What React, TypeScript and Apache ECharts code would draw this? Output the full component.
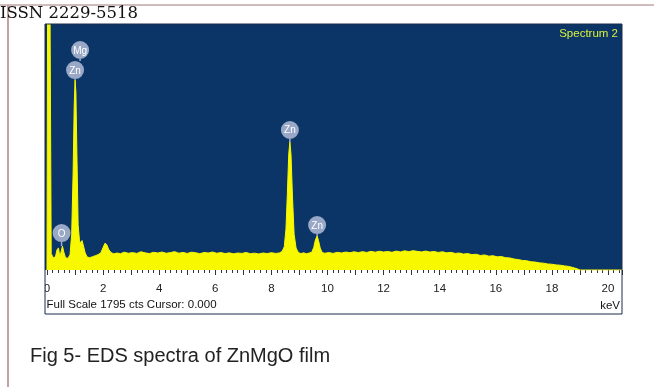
import React, { useEffect, useRef } from "react";
import * as echarts from "echarts";

// Energy (keV) of each sampled point of the spectrum
const energyKeV: number[] = [
  0.0, 0.02, 0.11, 0.15, 0.22, 0.3, 0.36, 0.41, 0.46, 0.51, 0.55, 0.6, 0.66, 0.74, 0.82, 0.88, 0.93, 0.97,
  1.0, 1.03, 1.07, 1.11, 1.16, 1.21, 1.25, 1.3, 1.36, 1.43, 1.52, 1.62, 1.72, 1.82, 1.92, 2.0, 2.07, 2.13,
  2.2, 2.28, 2.38, 2.5, 2.62, 2.75, 2.9, 3.05, 3.2, 3.35, 3.5, 3.65, 3.8, 3.95, 4.1, 4.25, 4.4, 4.55, 4.7,
  4.85, 5.0, 5.15, 5.3, 5.45, 5.6, 5.75, 5.9, 6.05, 6.2, 6.35, 6.5, 6.65, 6.8, 6.95, 7.1, 7.25, 7.4, 7.55,
  7.7, 7.85, 8.0, 8.15, 8.28, 8.38, 8.46, 8.52, 8.57, 8.62, 8.66, 8.7, 8.75, 8.81, 8.88, 8.96, 9.05, 9.15,
  9.25, 9.35, 9.44, 9.51, 9.57, 9.63, 9.68, 9.74, 9.81, 9.9, 10.05, 10.2, 10.35, 10.5, 10.65, 10.8, 10.95,
  11.1, 11.25, 11.4, 11.55, 11.7, 11.85, 12.0, 12.15, 12.3, 12.45, 12.6, 12.75, 12.9, 13.05, 13.2, 13.35,
  13.5, 13.65, 13.8, 13.95, 14.1, 14.25, 14.4, 14.55, 14.7, 14.85, 15.0, 15.15, 15.3, 15.45, 15.6, 15.75,
  15.9, 16.05, 16.2, 16.35, 16.5, 16.65, 16.8, 16.95, 17.1, 17.25, 17.4, 17.55, 17.7, 17.85, 18.0, 18.15,
  18.3, 18.45, 18.6, 18.75, 18.9, 19.0, 19.1, 20.5,
];

// Counts (full scale 1795 cts)
const counts: number[] = [
  0, 1795, 1795, 120, 90, 95, 150, 160, 95, 140, 175, 130, 90, 85, 110, 260, 700, 1200,
  1386, 1300, 800, 330, 210, 200, 215, 175, 125, 95, 90, 97, 104, 112, 125, 165, 196, 185,
  150, 128, 118, 124, 119, 130, 122, 127, 121, 133, 125, 120, 129, 124, 131, 122, 127, 134, 123,
  128, 121, 130, 126, 119, 128, 124, 131, 122, 127, 120, 125, 118, 124, 121, 128, 119, 123, 117,
  124, 120, 126, 121, 124, 135, 170, 300, 560, 850, 934, 840, 540, 260, 160, 128, 120, 125,
  119, 124, 130, 165, 220, 248, 215, 160, 128, 122, 127, 121, 129, 124, 131, 126, 133,
  127, 134, 128, 136, 130, 137, 131, 135, 129, 138, 132, 140, 134, 141, 136, 132,
  138, 131, 135, 128, 133, 125, 129, 121, 124, 116, 120, 112, 115, 106, 110, 101,
  104, 96, 98, 90, 88, 80, 76, 70, 68, 60, 58, 52, 50, 44, 42, 37,
  35, 30, 26, 18, 9, 0, 0, 0,
];

// Element labels: name, energy anchor (keV), count anchor, stem length (px)
const peakNames: string[] = ["O", "Zn", "Mg", "Zn", "Zn"];
const peakKeV: number[] = [0.52, 1.0, 1.18, 8.66, 9.63];
const peakCounts: number[] = [175, 1386, 1525, 934, 248];
const peakStems: number[] = [4, 1, 2, 3, 2];

const xTickLabels: number[] = [0, 2, 4, 6, 8, 10, 12, 14, 16, 18, 20];

const FULL_SCALE = 1795;

function pinPath(stem: number): string {
  const b = 9 + stem;
  return (
    "path://M-9,0A9,9,0,1,1,9,0A9,9,0,1,1,-9,0Z" +
    `M-0.8,8.5L0.8,8.5L0.8,${b}L-0.8,${b}Z`
  );
}

export default function App() {
  const ref = useRef<HTMLDivElement>(null);

  useEffect(() => {
    document.body.style.margin = "0";
    if (!ref.current) return;
    const chart = echarts.init(ref.current, undefined, { renderer: "svg" });

    const spectrum = energyKeV.map((e, i) => [e, counts[i]]);
    const markData = peakNames.map((n, i) => {
      const s = peakStems[i];
      return {
        name: n,
        coord: [peakKeV[i], peakCounts[i]],
        symbol: pinPath(s),
        symbolSize: [18, 18 + s],
        symbolOffset: [0, -(18 + s) / 2],
        label: { offset: [0, -s / 2] },
      };
    });

    const font = "Liberation Sans, Arial, sans-serif";

    chart.setOption({
      animation: false,
      grid: { left: 47, right: 32, top: 24, bottom: 117, containLabel: false },
      xAxis: {
        type: "value",
        min: 0,
        max: 20.5,
        interval: 1,
        axisLine: { show: false },
        axisTick: { show: true, length: 5, lineStyle: { color: "#333", width: 1 } },
        minorTick: { show: true, splitNumber: 5, length: 3, lineStyle: { color: "#333", width: 1 } },
        splitLine: { show: false },
        minorSplitLine: { show: false },
        axisLabel: {
          color: "#222",
          fontSize: 11.5,
          fontFamily: font,
          margin: 12,
          showMaxLabel: false,
          formatter: (v: number) => (xTickLabels.indexOf(v) >= 0 ? String(v) : ""),
        },
      },
      yAxis: { type: "value", min: 0, max: FULL_SCALE, show: false },
      series: [
        {
          type: "line",
          data: spectrum,
          showSymbol: false,
          symbol: "none",
          lineStyle: { color: "#f8f800", width: 1 },
          areaStyle: { color: "#f8f800", opacity: 1 },
          z: 3,
          markPoint: {
            symbolKeepAspect: false,
            itemStyle: { color: "#98a8c6" },
            label: {
              show: true,
              position: "inside",
              formatter: "{b}",
              color: "#ffffff",
              fontSize: 10,
              fontFamily: font,
            },
            data: markData,
          },
        },
      ],
      graphic: [
        { type: "line", z: 50, shape: { x1: 0, y1: 5, x2: 654, y2: 5 }, style: { stroke: "#a07878", lineWidth: 1 } },
        { type: "line", z: 50, shape: { x1: 8, y1: 5, x2: 8, y2: 387 }, style: { stroke: "#c4a2a2", lineWidth: 2 } },
        {
          type: "text",
          z: 51,
          x: 0,
          y: 12.5,
          style: { text: "ISSN 2229-5518", font: "16.5px 'DejaVu Serif', serif", fill: "#111", textVerticalAlign: "middle" },
        },
        { type: "rect", z: -2, shape: { x: 45, y: 24, width: 577, height: 290 }, style: { fill: "#ffffff" } },
        { type: "rect", z: -1, shape: { x: 45, y: 24, width: 577, height: 246 }, style: { fill: "#0b3566" } },
        { type: "rect", z: 40, shape: { x: 36, y: 276, width: 9, height: 22 }, style: { fill: "#ffffff" } },
        {
          type: "rect",
          z: 41,
          shape: { x: 45, y: 24, width: 577, height: 290 },
          style: { fill: "none", stroke: "#1c2c4c", lineWidth: 1 },
        },
        {
          type: "text",
          z: 42,
          x: 618,
          y: 33,
          style: { text: "Spectrum 2", font: `11.5px ${font}`, fill: "#d9f03c", textAlign: "right", textVerticalAlign: "middle" },
        },
        {
          type: "text",
          z: 42,
          x: 46.5,
          y: 304,
          style: { text: "Full Scale 1795 cts Cursor: 0.000", font: `11.5px ${font}`, fill: "#111", textVerticalAlign: "middle" },
        },
        {
          type: "text",
          z: 42,
          x: 620,
          y: 305,
          style: { text: "keV", font: `11.5px ${font}`, fill: "#111", textAlign: "right", textVerticalAlign: "middle" },
        },
        {
          type: "text",
          z: 42,
          x: 30,
          y: 355,
          style: { text: "Fig 5- EDS spectra of ZnMgO film", font: `20px ${font}`, fill: "#222", textVerticalAlign: "middle" },
        },
      ],
    });

    return () => chart.dispose();
  }, []);

  return <div ref={ref} style={{ position: "fixed", left: 0, top: 0, width: 654, height: 387 }} />;
}
